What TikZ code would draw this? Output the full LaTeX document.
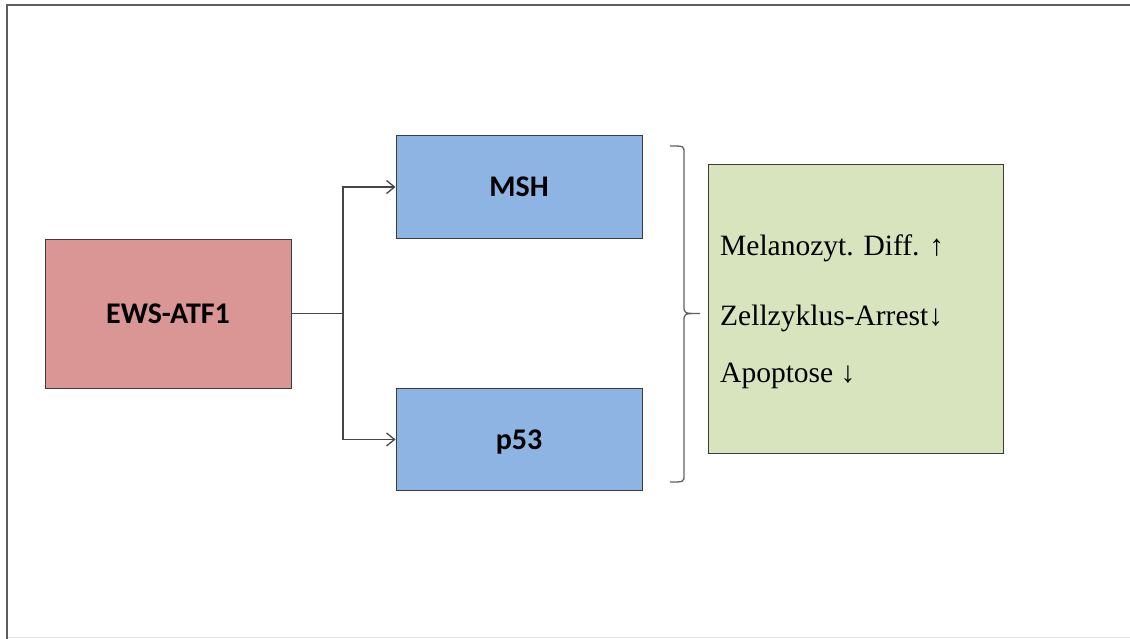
\documentclass[tikz,border=0pt]{standalone}
\usepackage{fontspec}
\setmainfont{Liberation Serif}
\newfontfamily\boxfont{Carlito}
\usetikzlibrary{arrows.meta}

\definecolor{redfill}{HTML}{D99694}
\definecolor{bluefill}{HTML}{8EB4E3}
\definecolor{greenfill}{HTML}{D7E4BD}
\definecolor{edgegray}{HTML}{3C3C3C}
\definecolor{linkgray}{HTML}{454545}
\definecolor{framegray}{HTML}{5E5E5E}

\tikzset{
  factor/.style={draw=edgegray, line width=0.9pt, minimum width=246pt,
    inner sep=0pt, text depth=0pt,
    font=\boxfont\bfseries\fontsize{30}{32}\selectfont},
  effectbox/.style={draw=edgegray, line width=0.9pt, fill=greenfill,
    minimum width=295pt, minimum height=289pt, inner sep=0pt},
  effect/.style={anchor=base west, inner sep=0pt,
    font=\fontsize{29.5}{31}\selectfont},
  link/.style={draw=linkgray, line width=1.3pt},
  linkarrow/.style={link, -{Straight Barb[length=8pt,width=13pt,line width=1.3pt]}},
  brace/.style={draw=linkgray!85, line width=1.3pt}
}

\begin{document}
\begin{tikzpicture}[x=1pt,y=-1pt]
  \useasboundingbox (0,0) rectangle (1130,639);

  % slide frame
  \draw[framegray, line width=2pt] (7,639) -- (7,5) -- (1130,5);
  \draw[black!12, line width=1pt] (8,637.5) -- (1130,637.5);

  % factors
  \node[factor, fill=redfill, minimum height=149pt] (ews) at (168,313.5) {EWS-ATF1};
  \node[factor, fill=bluefill, minimum height=103pt] (msh) at (519,187) {MSH};
  \node[factor, fill=bluefill, minimum height=102pt] (p53) at (519,439.5) {p53};

  % branching connector
  \coordinate (fork) at (343,313.5);
  \draw[link] (ews.east) -- (fork);
  \draw[linkarrow] (fork) |- (msh.west);
  \draw[linkarrow] (fork) |- (p53.west);

  % closing brace
  \coordinate (btop) at (670,146);
  \coordinate (btip) at (700,313.5);
  \coordinate (bbot) at (670,482);
  \draw[brace] (btop) .. controls (684,146) .. (684,153) -- (684,306)
    .. controls (684,313.5) .. (btip)
    .. controls (684,313.5) .. (684,321) -- (684,475)
    .. controls (684,482) .. (bbot);

  % effects
  \node[effectbox] (eff) at (855.5,308.5) {};
  \node[effect] (e1) at (720,255) {Melanozyt. Diff. ↑};
  \node[effect] (e2) at (720,325) {Zellzyklus-Arrest↓};
  \node[effect] (e3) at (720,382) {Apoptose ↓};
\end{tikzpicture}
\end{document}
